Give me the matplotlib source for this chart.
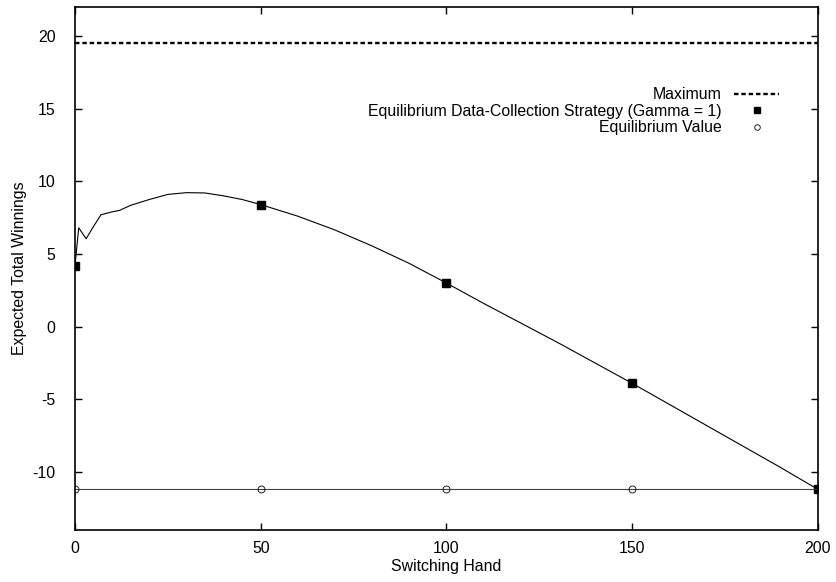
import numpy as np
import matplotlib
matplotlib.use('Agg')
import matplotlib.pyplot as plt

plt.rcParams['font.family'] = ['Liberation Sans', 'DejaVu Sans']
plt.rcParams['font.size'] = 11.4
plt.rcParams['axes.unicode_minus'] = False

# curve
hand = [0, 1, 3, 5, 7, 10, 12, 15, 20, 25, 30, 35, 40, 45, 50, 60, 70, 80, 90,
        100, 110, 120, 130, 140, 150, 160, 170, 180, 190, 200]
winnings = [4.2, 6.8, 6.05, 6.9, 7.7, 7.9, 8.0, 8.35, 8.75, 9.1, 9.22, 9.2, 9.0,
            8.75, 8.4, 7.6, 6.65, 5.55, 4.35, 3.0, 1.6, 0.25, -1.1, -2.5, -3.9,
            -5.35, -6.8, -8.25, -9.7, -11.2]

# markers
strat_hand = [0, 50, 100, 150, 200]
strat_win = [4.2, 8.4, 3.0, -3.9, -11.2]

maximum = 19.5
equilibrium = -11.15

fig = plt.figure(figsize=(8.37, 5.82), dpi=100)
ax = fig.add_axes([0.0896, 0.0893, 0.8875, 0.8987])

ax.axhline(maximum, color='black', lw=1.7, dashes=(1.9, 1.2), label='Maximum')
ax.plot(hand, winnings, color='black', lw=0.8)
ax.plot(strat_hand, strat_win, 's', color='black', ms=5.2,
        label='Equilibrium Data-Collection Strategy (Gamma = 1)')
ax.plot([0, 200], [equilibrium, equilibrium], color='#444444', lw=0.8)
ax.plot(strat_hand, [equilibrium] * len(strat_hand), 'o', mfc='none',
        mec='black', mew=0.6, ms=5.0, label='Equilibrium Value')

ax.set_xlim(0, 200)
ax.set_ylim(-14, 22)
ax.set_xticks([0, 50, 100, 150, 200])
ax.set_yticks([-10, -5, 0, 5, 10, 15, 20])
ax.tick_params(direction='in', top=True, right=True, length=5, width=1.0)
ax.tick_params(axis='x', pad=8)
ax.tick_params(axis='y', pad=14)
for s in ax.spines.values():
    s.set_linewidth(1.2)

ax.set_xlabel('Switching Hand', labelpad=2)
ax.set_ylabel('Expected Total Winnings', labelpad=4)

leg = ax.legend(loc='upper right', bbox_to_anchor=(0.959, 0.862), frameon=False,
                markerfirst=False, handlelength=2.85, handletextpad=0.8,
                labelspacing=0.1, borderpad=0, markerscale=0.8)
leg._legend_handle_box.get_children()[0].align = 'right'

fig.savefig('out.png', dpi=100)
